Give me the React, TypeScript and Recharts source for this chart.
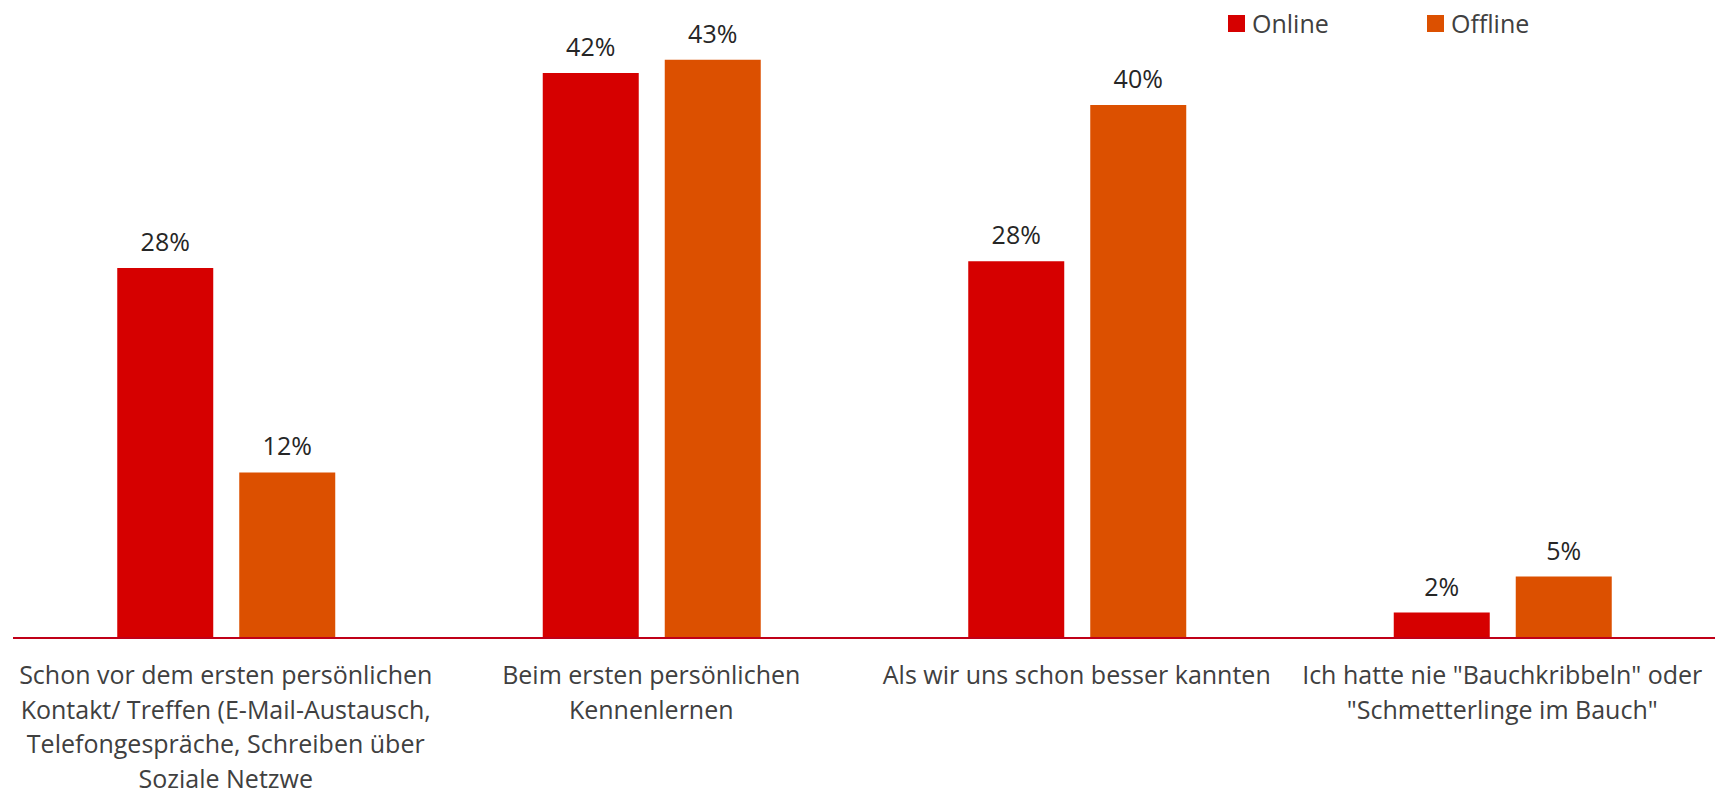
import { Bar, BarChart, LabelList, Legend, XAxis, YAxis } from 'recharts';

const categories = [
  'Schon vor dem ersten persönlichen\nKontakt/ Treffen (E-Mail-Austausch,\nTelefongespräche, Schreiben über\nSoziale Netzwe',
  'Beim ersten persönlichen\nKennenlernen',
  'Als wir uns schon besser kannten',
  'Ich hatte nie "Bauchkribbeln" oder\n"Schmetterlinge im Bauch"',
];
const online = [27.7, 42.3, 28.2, 1.9];
const offline = [12.4, 43.3, 39.9, 4.6];

const data = categories.map((name, i) => ({ name, online: online[i], offline: offline[i] }));

const FONT = '"Open Sans", "Noto Sans", sans-serif';
const ONLINE = '#d60000';
const OFFLINE = '#dc5000';

function CategoryTick({ x, y, payload }: any) {
  const lines = String(payload.value).split('\n');
  return (
    <text x={x} y={y} textAnchor="middle" fill="#404040" fontSize={25} fontFamily={FONT}>
      {lines.map((l, i) => (
        <tspan key={i} x={x} dy={i === 0 ? 46 : 34.5}>
          {l}
        </tspan>
      ))}
    </text>
  );
}

function LegendBox() {
  const items = [
    { label: 'Online', color: ONLINE },
    { label: 'Offline', color: OFFLINE },
  ];
  return (
    <div style={{ display: 'flex', fontFamily: FONT, fontSize: 25, color: '#404040' }}>
      {items.map((it) => (
        <div key={it.label} style={{ display: 'flex', alignItems: 'center', width: 199 }}>
          <span style={{ width: 17, height: 17, background: it.color, marginRight: 7 }} />
          <span style={{ lineHeight: '30px' }}>{it.label}</span>
        </div>
      ))}
    </div>
  );
}

const pct = (v: any) => `${Math.round(Number(v))}%`;

export default function App() {
  return (
    <div style={{ position: 'absolute', left: 0, top: 0, background: '#fff' }}>
      <BarChart
        width={1715}
        height={795}
        data={data}
        margin={{ top: 37, right: 0, left: 13, bottom: 0 }}
        barCategoryGap="24.5%"
        barGap={26}
      >
        <XAxis
          dataKey="name"
          interval={0}
          height={157}
          tickLine={false}
          tickSize={0}
          tickMargin={0}
          axisLine={{ stroke: '#c00018', strokeWidth: 2 }}
          tick={<CategoryTick />}
        />
        <YAxis hide domain={[0, 45]} />
        <Legend
          verticalAlign="middle"
          align="center"
          content={<LegendBox />}
          wrapperStyle={{ top: 8, left: 1228, width: 420 }}
        />
        <Bar dataKey="online" name="Online" fill={ONLINE} isAnimationActive={false}>
          <LabelList
            dataKey="online"
            position="top"
            offset={17}
            formatter={pct}
            fill="#262626"
            fontSize={25}
            fontFamily={FONT}
          />
        </Bar>
        <Bar dataKey="offline" name="Offline" fill={OFFLINE} isAnimationActive={false}>
          <LabelList
            dataKey="offline"
            position="top"
            offset={17}
            formatter={pct}
            fill="#262626"
            fontSize={25}
            fontFamily={FONT}
          />
        </Bar>
      </BarChart>
    </div>
  );
}
